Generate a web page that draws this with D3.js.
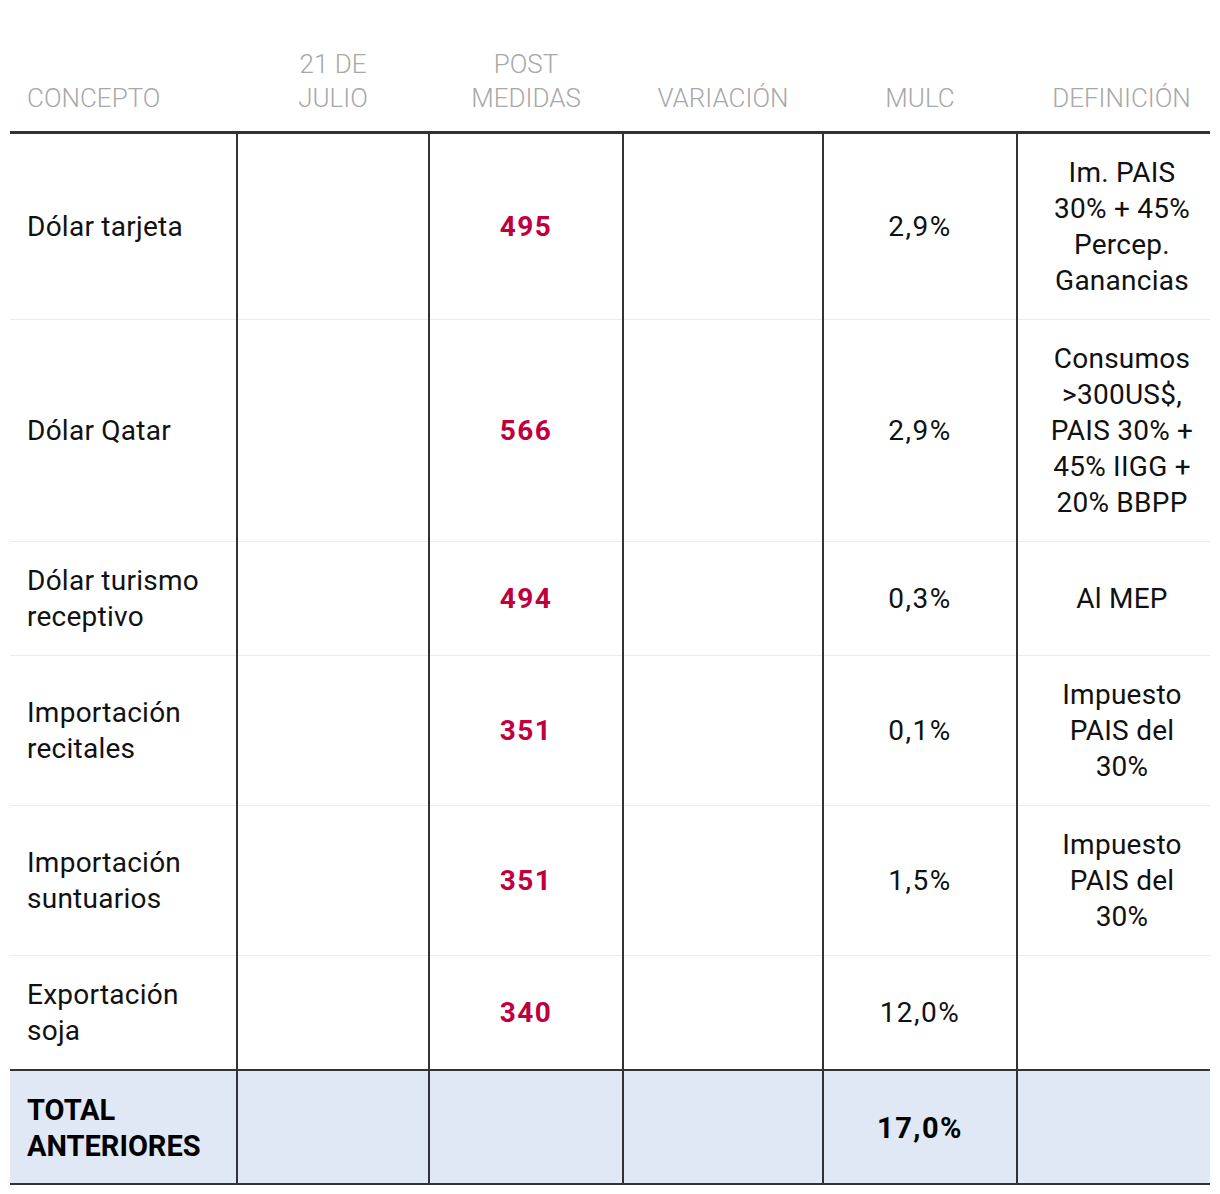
<!DOCTYPE html>
<html><head><meta charset="utf-8">
<script src="https://cdn.jsdelivr.net/npm/d3@7"></script>
<style>
html,body{margin:0;padding:0;background:#fff;}
#wrap{position:absolute;left:10px;top:0;width:1200px;}
table{border-collapse:collapse;table-layout:fixed;width:1200px;font-family:Roboto,sans-serif;}
th{font-weight:300;color:#a8a8a8;font-size:26px;line-height:34px;vertical-align:bottom;padding:47px 6px 16px 6px;text-align:center;border-bottom:3px solid #333;}
th.first{text-align:left;padding-left:17px;}
th.last{padding-left:16px;padding-right:0;}
td{font-size:28px;line-height:36px;color:#111;padding:21px 10px 20px 10px;text-align:center;vertical-align:middle;border-left:2px solid #333;border-top:1px solid #ececec;letter-spacing:0.25px;}
td.first{text-align:left;padding-left:17px;padding-right:20px;border-left:none;}
td.num{color:#c0003c;font-weight:700;letter-spacing:1.5px;}
td.pct{letter-spacing:1.5px;}
td.def{padding:21px 12px 20px 28px;}
tr.total td{background:#e1e8f5;border-top:2px solid #333;border-bottom:2px solid #333;font-weight:700;color:#000;font-size:29px;letter-spacing:0;padding-bottom:19px;}
tr.total td.pct{letter-spacing:1.5px;}
</style></head><body>
<div id="wrap"></div>
<script>
const columns = ["CONCEPTO", "21 DE JULIO", "POST MEDIDAS", "VARIACIÓN", "MULC", "DEFINICIÓN"];
const concepts = ["Dólar tarjeta", "Dólar Qatar", "Dólar turismo receptivo", "Importación recitales", "Importación suntuarios", "Exportación soja"];
const julio21 = ["", "", "", "", "", ""];
const postMedidas = [495, 566, 494, 351, 351, 340];
const variacion = ["", "", "", "", "", ""];
const mulc = ["2,9%", "2,9%", "0,3%", "0,1%", "1,5%", "12,0%"];
const definicion = ["Im. PAIS 30% + 45% Percep. Ganancias", "Consumos >300US$, PAIS 30% + 45% IIGG + 20% BBPP", "Al MEP", "Impuesto PAIS del 30%", "Impuesto PAIS del 30%", ""];
const totalLabel = "TOTAL ANTERIORES";
const totalMulc = "17,0%";

const widths = [227, 192, 194, 200, 194, 193];
const table = d3.select("#wrap").append("table");
table.append("colgroup").selectAll("col").data(widths).join("col").style("width", d => d + "px");
table.append("thead").append("tr").selectAll("th").data(columns).join("th")
  .attr("class", (d, i) => i === 0 ? "first" : i === 5 ? "last" : null)
  .html((d, i) => (i === 1 || i === 2) ? d.replace(/ (\S+)$/, "<br>$1") : d);

const cls = ["first", null, "num", null, "pct", "def"];
const rows = concepts.map((c, i) => [c, julio21[i], postMedidas[i], variacion[i], mulc[i], definicion[i]]);
const tbody = table.append("tbody");
tbody.selectAll("tr.r").data(rows).join("tr").attr("class", "r")
  .selectAll("td").data(d => d).join("td")
  .attr("class", (d, i) => cls[i])
  .text(d => d);
const tot = tbody.append("tr").attr("class", "total");
tot.selectAll("td").data([totalLabel, "", "", "", totalMulc, ""]).join("td")
  .attr("class", (d, i) => i === 0 ? "first" : i === 4 ? "pct" : i === 5 ? "def" : null)
  .text(d => d);
</script>
</body></html>
